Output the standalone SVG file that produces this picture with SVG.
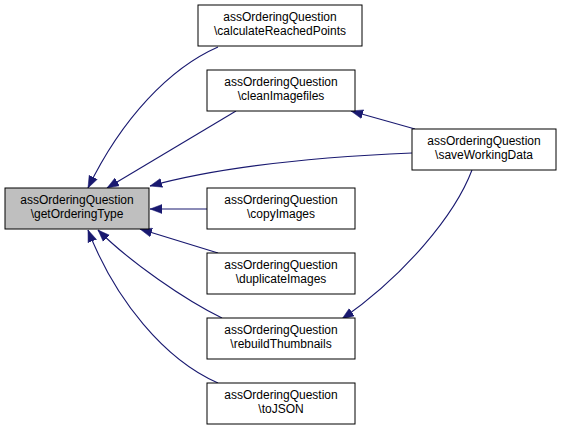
<svg xmlns="http://www.w3.org/2000/svg" width="561" height="431" viewBox="0 0 561 431">
<style>
.n rect{fill:#ffffff;stroke:#000000;stroke-width:1}
.n.cur rect{fill:#bfbfbf}
.n text{font-family:"Liberation Sans",Arial,sans-serif;font-size:12px;fill:#000000;text-anchor:middle}
.e path{fill:none;stroke:#191970;stroke-width:1.1;marker-end:url(#ah)}
</style>
<defs>
<marker id="ah" markerUnits="userSpaceOnUse" markerWidth="12" markerHeight="10" refX="12" refY="5" orient="auto">
<path d="M0,0.5 L12,5 L0,9.5 z" fill="#191970" stroke="#191970" stroke-width="0.5"/>
</marker>
</defs>
<rect width="561" height="431" fill="#ffffff"/>
<g id="edges" class="e">
<path d="M218,47 C170,68 122,118 88,188"/>
<path d="M236,111 L107,188"/>
<path d="M412,153 C340,156 230,164 150,186"/>
<path d="M207,209 L150,209"/>
<path d="M218,253 L140,229"/>
<path d="M222,318 C185,300 130,262 98,230"/>
<path d="M218,383 C165,360 115,300 88,230"/>
<path d="M415,129 L351,111"/>
<path d="M472,170 C455,215 405,275 342,319"/>
</g>
<g id="getOrderingType" class="n cur">
<rect x="5" y="188" width="144" height="41"/>
<text x="77" y="204">assOrderingQuestion</text>
<text x="77" y="218">\getOrderingType</text>
</g>
<g id="calculateReachedPoints" class="n">
<rect x="198" y="5" width="164" height="41"/>
<text x="280" y="21">assOrderingQuestion</text>
<text x="280" y="35">\calculateReachedPoints</text>
</g>
<g id="cleanImagefiles" class="n">
<rect x="207" y="70" width="148" height="41"/>
<text x="281" y="86">assOrderingQuestion</text>
<text x="281" y="100">\cleanImagefiles</text>
</g>
<g id="saveWorkingData" class="n">
<rect x="412" y="129" width="144" height="41"/>
<text x="484" y="145">assOrderingQuestion</text>
<text x="484" y="159">\saveWorkingData</text>
</g>
<g id="copyImages" class="n">
<rect x="207" y="188" width="148" height="41"/>
<text x="281" y="204">assOrderingQuestion</text>
<text x="281" y="218">\copyImages</text>
</g>
<g id="duplicateImages" class="n">
<rect x="207" y="253" width="148" height="41"/>
<text x="281" y="269">assOrderingQuestion</text>
<text x="281" y="283">\duplicateImages</text>
</g>
<g id="rebuildThumbnails" class="n">
<rect x="207" y="318" width="148" height="41"/>
<text x="281" y="334">assOrderingQuestion</text>
<text x="281" y="348">\rebuildThumbnails</text>
</g>
<g id="toJSON" class="n">
<rect x="207" y="383" width="148" height="41"/>
<text x="281" y="399">assOrderingQuestion</text>
<text x="281" y="413">\toJSON</text>
</g>
</svg>
